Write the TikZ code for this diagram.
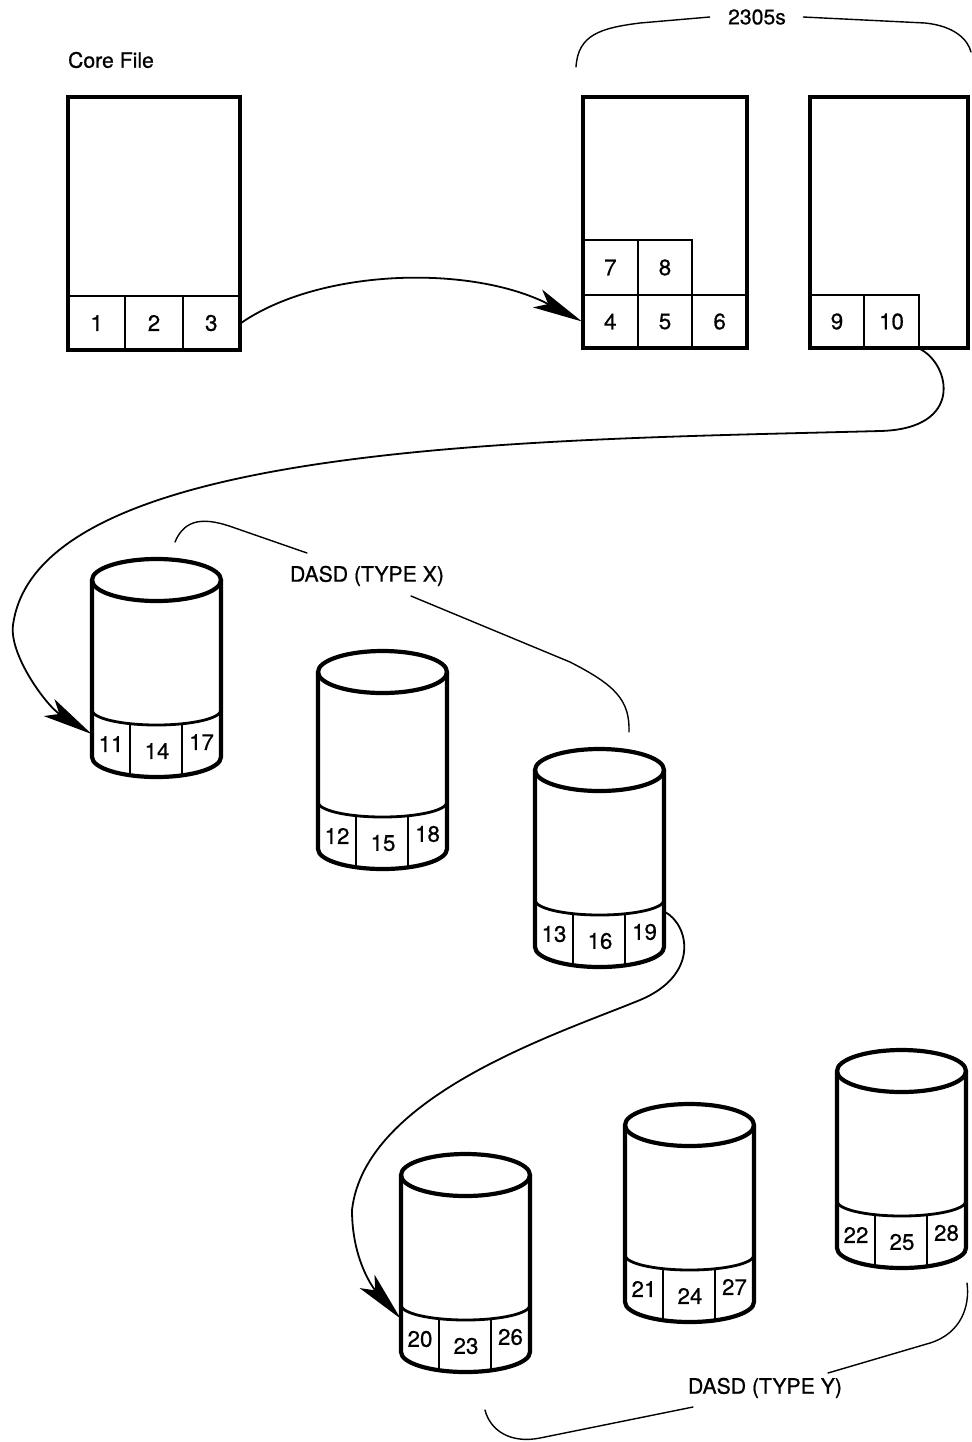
\documentclass[tikz,border=0pt]{standalone}
\usepackage{fontspec}
\setmainfont{TeX Gyre Heros}[FakeBold=0.6]
\usetikzlibrary{arrows.meta}

\tikzset{
  txt/.style={font=\fontsize{10.6}{12}\selectfont, inner sep=0pt},
  cell/.style={draw, line width=1pt, inner sep=0pt, minimum height=27pt,
    font=\fontsize{11.2}{12}\selectfont},
  filebox/.style={draw, line width=2.4pt, inner sep=0pt},
  drumline/.style={line width=2.1pt, line join=round},
  bandline/.style={line width=1.4pt},
  divider/.style={line width=1pt},
  drumcell/.style={inner sep=0pt, minimum height=20pt,
    font=\fontsize{11.2}{12}\selectfont},
  flow/.style={line width=0.9pt, -{Stealth[length=25pt,width=10pt,inset=6pt]}},
  bracket/.style={line width=0.7pt, line cap=round},
}

% A disk drum: #1 left edge, #2 centre of the top ellipse, #3-#5 the track numbers
\newcommand\drum[5]{%
  \pgfmathsetmacro\drL{#1}%
  \pgfmathsetmacro\drR{#1+129}%
  \pgfmathsetmacro\drC{#1+64.5}%
  \pgfmathsetmacro\drT{#2}%
  \pgfmathsetmacro\drM{#2+130}%
  \pgfmathsetmacro\drB{#2+177}%
  \draw[drumline] (\drC,\drT) ellipse [x radius=64.5, y radius=21];
  \draw[drumline] (\drL,\drT) -- (\drL,\drB)
    .. controls (\drL,{\drB+11}) and ({\drC-35.6},{\drB+20}) .. (\drC,{\drB+20})
    .. controls ({\drC+35.6},{\drB+20}) and (\drR,{\drB+11}) .. (\drR,\drB)
    -- (\drR,\drT);
  \draw[bandline] (\drL,\drM)
    .. controls (\drL,{\drM+8.3}) and ({\drC-35.6},{\drM+15}) .. (\drC,{\drM+15})
    .. controls ({\drC+35.6},{\drM+15}) and (\drR,{\drM+8.3}) .. (\drR,\drM);
  \draw[divider] ({\drL+38},{\drM+13.7}) -- ({\drL+38},{\drB+18.2});
  \draw[divider] ({\drL+90},{\drM+13.8}) -- ({\drL+90},{\drB+18.4});
  \node[drumcell, minimum width=19pt]   (d#3) at ({\drL+19},{\drT+164}) {#3};
  \node[drumcell, minimum width=26pt]   (d#4) at ({\drL+65},{\drT+171}) {#4};
  \node[drumcell, minimum width=19.5pt] (d#5) at ({\drL+109.5},{\drT+162}) {#5};
}

\begin{document}
\begin{tikzpicture}[x=0.5pt, y=-0.5pt]
\useasboundingbox (0,0) rectangle (972,1442);

% core file
\node[txt] (corelbl) at (111,60) {Core File};
\node[cell, minimum width=28.67pt] (c1) at (96.67,323) {1};
\node[cell, minimum width=28.67pt] (c2) at (154,323) {2};
\node[cell, minimum width=28.67pt] (c3) at (211.33,323) {3};
\node[filebox, minimum width=86pt, minimum height=126.5pt] (core) at (154,223.5) {};

% first 2305
\node[cell, minimum width=27.33pt, minimum height=26.5pt] (c4) at (610.33,321.5) {4};
\node[cell, minimum width=27.33pt, minimum height=26.5pt] (c5) at (665,321.5) {5};
\node[cell, minimum width=27.33pt, minimum height=26.5pt] (c6) at (719.67,321.5) {6};
\node[cell, minimum width=27.33pt, minimum height=27.5pt] (c7) at (610.33,267.5) {7};
\node[cell, minimum width=27.33pt, minimum height=27.5pt] (c8) at (665,267.5) {8};
\node[filebox, minimum width=82pt, minimum height=125.5pt] (fsA) at (665,222.5) {};

% second 2305
\node[cell, minimum width=27pt, minimum height=26.5pt] (c9) at (837,321.5) {9};
\node[cell, minimum width=27.5pt, minimum height=26.5pt] (c10) at (891.5,321.5) {10};
\node[filebox, minimum width=79pt, minimum height=125.5pt] (fsB) at (889,222.5) {};

% brace over the 2305s
\node[txt] (t2305) at (757,17) {2305s};
\draw[bracket] ([xshift=-9pt]t2305.west) -- (640,23)
  .. controls (600,28) and (578,35) .. (576,67);
\draw[bracket] ([xshift=8.5pt]t2305.east) -- (925,23)
  .. controls (955,26) and (968,40) .. (971,52);

% disk drums, type X
\drum{92}{580}{11}{14}{17}
\drum{318}{672}{12}{15}{18}
\drum{535}{770}{13}{16}{19}

% disk drums, type Y
\drum{401}{1175}{20}{23}{26}
\drum{625}{1125}{21}{24}{27}
\drum{837}{1071}{22}{25}{28}

% group labels
\node[txt] (tx) at (367,576) {DASD (TYPE X)};
\draw[bracket] (307,553) -- (235,528) .. controls (205,517) and (185,518) .. (175,542);
\draw[bracket] (411,596) -- (570,662) .. controls (615,685) and (630,700) .. (629,732);

\node[txt] (ty) at (765,1388) {DASD (TYPE Y)};
\draw[bracket] (693,1407) -- (540,1438) .. controls (510,1444) and (490,1430) .. (485,1410);
\draw[bracket] (828,1373) -- (930,1343) .. controls (962,1333) and (970,1305) .. (967,1283);

% data flow
\draw[flow] (c3.east) .. controls +(80,-55) and +(-110,-57) .. (c4.west);

\coordinate (w1) at (880,431);
\coordinate (w2) at (13,625);
\draw[flow] (c10.south east) .. controls +(30,15) and +(85,-2) .. (w1)
  .. controls +(-330,9) and +(25,-185) .. (w2)
  .. controls +(-4,30) and +(-45,-28) .. ([yshift=5pt]d11.west);

\coordinate (v1) at (640,1000);
\coordinate (v2) at (352,1210);
\draw[flow] (d19.north east) .. controls +(25,13) and +(60,-25) .. (v1)
  .. controls +(-80,33) and +(13,-115) .. (v2)
  .. controls +(0,50) and +(-27,-30) .. (d20.north west);
\end{tikzpicture}
\end{document}
